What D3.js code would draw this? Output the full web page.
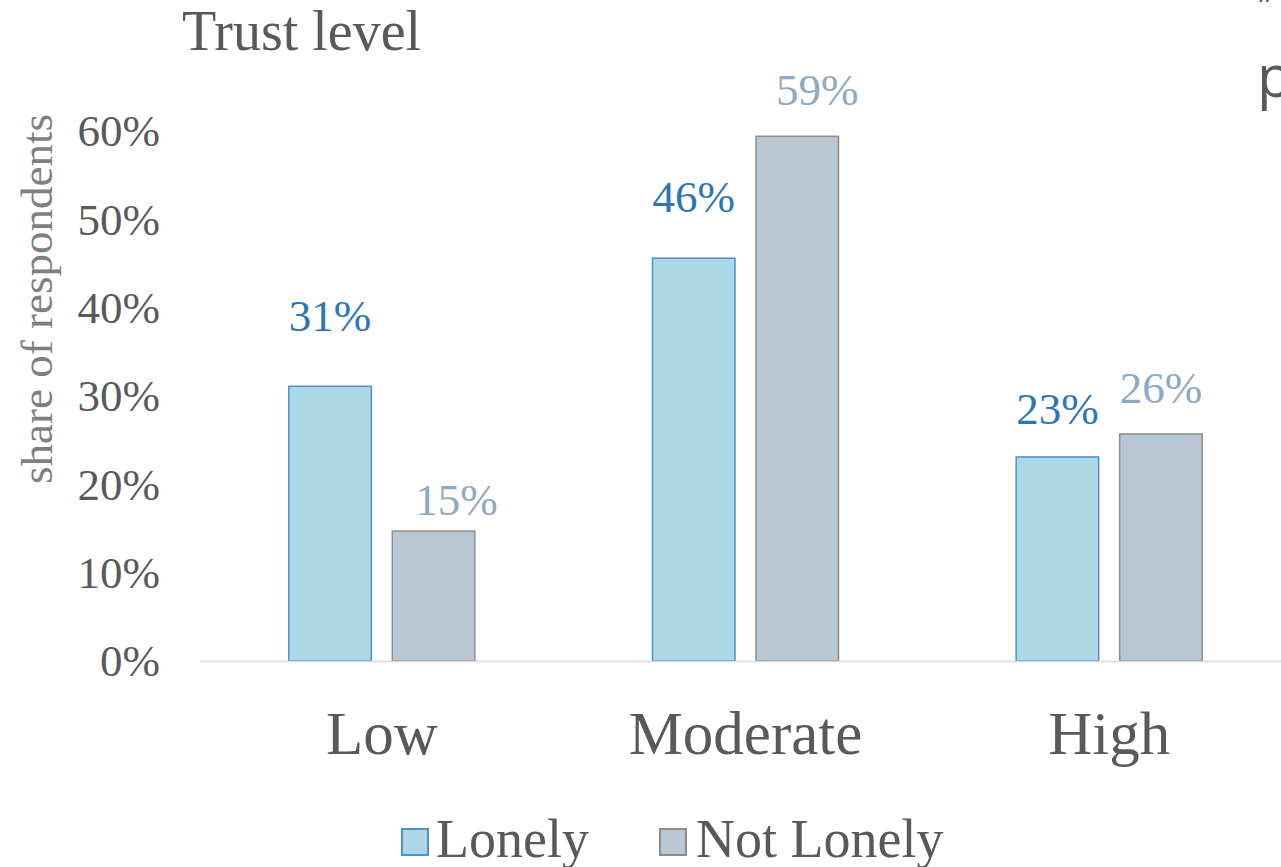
<!DOCTYPE html>
<html>
<head>
<meta charset="utf-8">
<script src="https://cdn.jsdelivr.net/npm/d3@7"></script>
<style>
  html, body { margin: 0; padding: 0; background: #ffffff; }
  svg { display: block; }
</style>
</head>
<body>
<svg id="chart" width="1281" height="867"></svg>
<script>
// ---- data ----
const categories = ["Low", "Moderate", "High"];
const seriesNames = ["Lonely", "Not Lonely"];
const lonelyValues = [0.311, 0.456, 0.231];
const notLonelyValues = [0.147, 0.594, 0.257];
const yTickValues = [0, 0.1, 0.2, 0.3, 0.4, 0.5, 0.6];
const chartTitle = "Trust level";
const yAxisTitle = "share of respondents";

// ---- layout / style ----
const W = 1281, H = 867;
const plot = { left: 200, right: 1291, top: 131, bottom: 661 };
const colors = {
  "Lonely": { fill: "#add8e6", stroke: "#4f8fce", label: "#2e75b6" },
  "Not Lonely": { fill: "#b8c7d3", stroke: "#8c8c8c", label: "#8eaac2" }
};
// manual label placement in the original (dx, gap above bar top)
const labelNudge = {
  "Lonely": [[0, 55], [0, 46], [0, 33]],
  "Not Lonely": [[23, 16], [20, 31], [0, 31]]
};
const serif = "'Liberation Serif', 'Times New Roman', serif";

const svg = d3.select("#chart");

const x0 = d3.scaleBand()
  .domain(categories)
  .range([plot.left, plot.right])
  .paddingInner(0.4885)
  .paddingOuter(0.24425);

const x1 = d3.scaleBand()
  .domain(seriesNames)
  .range([0, x0.bandwidth()])
  .paddingInner(0.203)
  .paddingOuter(0);

const y = d3.scaleLinear().domain([0, 0.6]).range([plot.bottom, plot.top]);

const rows = [];
categories.forEach((c, i) => {
  rows.push({ cat: c, i, series: "Lonely", value: lonelyValues[i] });
  rows.push({ cat: c, i, series: "Not Lonely", value: notLonelyValues[i] });
});

// y axis tick labels
const yAxis = d3.axisLeft(y).tickValues(yTickValues).tickFormat(d3.format(".0%")).tickSize(0).tickPadding(0);
const yg = svg.append("g").attr("transform", "translate(160,0)").call(yAxis);
yg.select(".domain").remove();
yg.selectAll("text")
  .attr("fill", "#595959")
  .attr("font-family", serif)
  .attr("font-size", 45)
  .attr("dy", "0.33em");

// bars
svg.append("g").selectAll("rect")
  .data(rows)
  .join("rect")
  .attr("x", d => x0(d.cat) + x1(d.series))
  .attr("y", d => y(d.value))
  .attr("width", x1.bandwidth())
  .attr("height", d => y(0) - y(d.value))
  .attr("fill", d => colors[d.series].fill)
  .attr("stroke", d => colors[d.series].stroke)
  .attr("stroke-width", 1.5);

// baseline axis
const xAxis = d3.axisBottom(x0).tickSize(0).tickPadding(0).tickFormat("");
const xg = svg.append("g").attr("transform", `translate(0,${y(0)})`).call(xAxis);
xg.select(".domain").attr("stroke", "#d9d9d9").attr("stroke-width", 1.5);

// category labels
svg.append("g").selectAll("text")
  .data(categories)
  .join("text")
  .attr("x", d => x0(d) + x0.bandwidth() / 2)
  .attr("y", 754)
  .attr("text-anchor", "middle")
  .attr("font-family", serif)
  .attr("font-size", 61)
  .attr("fill", "#595959")
  .text(d => d);

// data labels
svg.append("g").selectAll("text")
  .data(rows)
  .join("text")
  .attr("x", d => x0(d.cat) + x1(d.series) + x1.bandwidth() / 2 + labelNudge[d.series][d.i][0])
  .attr("y", d => y(d.value) - labelNudge[d.series][d.i][1])
  .attr("text-anchor", "middle")
  .attr("font-family", serif)
  .attr("font-size", 45)
  .attr("fill", d => colors[d.series].label)
  .text(d => d3.format(".0%")(d.value));

// chart title
svg.append("text")
  .attr("x", 182)
  .attr("y", 50)
  .attr("font-family", serif)
  .attr("font-size", 56)
  .attr("fill", "#595959")
  .text(chartTitle);

// y axis title
svg.append("text")
  .attr("transform", "translate(52,299) rotate(-90)")
  .attr("text-anchor", "middle")
  .attr("font-family", serif)
  .attr("font-size", 45)
  .attr("fill", "#7f7f7f")
  .text(yAxisTitle);

// legend
const legendPos = [{ sx: 402, tx: 436 }, { sx: 660, tx: 696 }];
const lg = svg.append("g").selectAll("g")
  .data(seriesNames)
  .join("g");
lg.append("rect")
  .attr("x", (d, i) => legendPos[i].sx)
  .attr("y", 829)
  .attr("width", 26)
  .attr("height", 26)
  .attr("fill", d => colors[d].fill)
  .attr("stroke", d => colors[d].stroke)
  .attr("stroke-width", 2);
lg.append("text")
  .attr("x", (d, i) => legendPos[i].tx)
  .attr("y", 857)
  .attr("font-family", serif)
  .attr("font-size", 54)
  .attr("fill", "#595959")
  .text(d => d);

// stray text from the neighbouring slide content at the right edge
svg.append("text")
  .attr("x", 1257)
  .attr("y", 97)
  .attr("font-family", "'Open Sans', sans-serif")
  .attr("font-size", 58)
  .attr("fill", "#595959")
  .text("p");
svg.append("text")
  .attr("x", 1259)
  .attr("y", 19)
  .attr("font-family", "'Open Sans', sans-serif")
  .attr("font-size", 36)
  .attr("fill", "#595959")
  .text("\u201D");
</script>
</body>
</html>
